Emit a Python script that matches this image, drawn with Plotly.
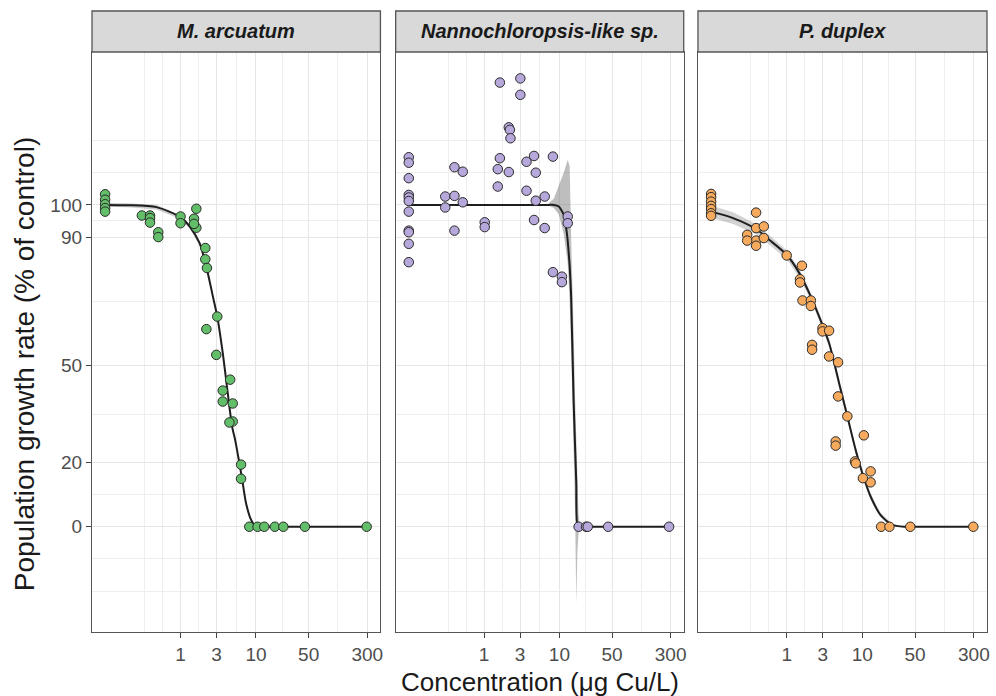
import plotly.graph_objects as go

# ---------------- data ----------------
species = ["M. arcuatum", "Nannochloropsis-like sp.", "P. duplex"]

# M. arcuatum observations
ma_x = [0.1, 0.1, 0.1, 0.1, 0.1,
        0.307, 0.394, 0.394, 0.394, 0.507, 0.507,
        1.0, 1.0, 1.62, 1.62, 1.51, 1.51,
        2.13, 2.13, 2.24, 3.07, 2.20, 2.98,
        4.55, 3.63, 3.63, 4.92, 4.92, 4.45,
        6.35, 6.35,
        8.17, 10.5, 12.9, 17.8, 23.1, 44.6, 294]
ma_y = [103.3, 101.6, 100.2, 99.0, 97.9,
        96.7, 96.7, 95.9, 94.5, 91.5, 90.0,
        96.4, 94.3, 98.8, 92.9, 95.7, 94.1,
        86.6, 83.1, 80.4, 65.3, 61.4, 53.4,
        45.7, 42.3, 38.9, 38.3, 32.7, 32.4,
        19.3, 14.9,
        0, 0, 0, 0, 0, 0, 0]

# Nannochloropsis-like sp. observations
nl_x = [0.1] * 11 + [
        0.305, 0.305, 0.404, 0.404, 0.404, 0.521, 0.521,
        1.02, 1.02, 1.62, 1.62, 1.52, 1.52,
        2.13, 2.2, 2.13, 2.24, 3.03, 3.03,
        3.66, 3.66, 4.61, 4.61, 4.86, 4.86,
        6.38, 6.38, 8.2, 8.2, 10.8, 10.8, 12.9, 12.9,
        18.0, 22.6, 23.8, 44.4, 286]
nl_y = [114.8, 113.1, 108.3, 103.1, 102.3, 101.2, 97.9, 92.0, 91.5, 87.9, 82.2,
        102.6, 99.2, 111.7, 102.8, 92.0, 110.3, 100.8,
        94.6, 93.1, 138.0, 114.5, 111.1, 105.7,
        124.1, 123.3, 110.2, 120.7, 139.3, 134.2,
        113.4, 104.4, 115.2, 95.3, 110.0, 101.3,
        102.6, 92.8, 115.0, 79.1, 77.7, 76.0, 96.4, 94.3,
        0, 0, 0, 0, 0]

# P. duplex observations
pd_x = [0.1] * 7 + [
        0.394, 0.394, 0.394, 0.394, 0.30, 0.30, 0.498, 0.498,
        1.0, 1.59, 1.50, 1.50, 1.62, 2.09, 2.09,
        2.98, 2.98, 3.64, 3.64, 2.17, 2.17,
        4.79, 4.79, 6.35, 4.45, 4.45, 10.5,
        8.0, 8.2, 12.9, 12.9, 10.2,
        17.8, 22.9, 43.2, 295]
pd_y = [103.4, 102.4, 101.0, 99.7, 98.7, 97.4, 96.6,
        97.6, 92.8, 88.9, 87.3, 90.7, 88.9, 93.3, 89.7,
        84.3, 81.1, 76.9, 75.9, 70.3, 70.3, 68.6,
        61.7, 60.7, 60.9, 52.9, 56.5, 55.0,
        51.1, 40.5, 34.3, 26.5, 25.2, 28.4,
        20.3, 19.7, 17.2, 13.8, 15.1,
        0, 0, 0, 0]

# fitted curves
ma_fit_x = [0.1, 0.2, 0.48, 1.0, 1.32, 1.79, 2.2, 2.69, 3.07, 3.63, 4.23, 4.83, 5.3,
            5.85, 6.54, 7.38, 8.6, 10.0, 15.0, 300]
ma_fit_y = [100, 99.9, 99.3, 96.2, 93.3, 88.1, 80.8, 71.5, 65.3, 54, 41.5, 31.1, 27,
            21.5, 15, 7.4, 2.2, 0.1, 0, 0]
ma_lo = [99.4, 99.3, 98.6, 95.6, 92.7, 87.4, 80.1, 70.8, 64.6, 53.3, 40.9, 30.5, 26.4,
         21.0, 14.5, 7.0, 1.9, 0.0, 0, 0]
ma_hi = [100.6, 100.5, 100.0, 96.8, 93.9, 88.8, 81.5, 72.2, 66.0, 54.7, 42.1, 31.7, 27.6,
         22.0, 15.5, 7.8, 2.5, 0.2, 0, 0]

nl_fit_x = [0.1, 1.0, 5.0, 7.3, 8.45, 9.82, 11.42, 12.6, 13.69, 14.3, 15.45, 16.76,
            17.58, 22.0, 300]
nl_fit_y = [100, 100, 100, 100, 100, 99.5, 97, 91, 81, 72, 39, 13.6, 0, 0, 0]
nl_rib_x = [6.84, 8.45, 9.82, 11.42, 12.89, 13.69, 14.32, 14.98, 15.68, 16.16, 16.76,
            17.32, 17.96, 18.79]
nl_lo = [100, 99, 97, 91, 82, 70, 55, 38, 20, 5, -24, -8, -2, 0]
nl_hi = [100, 102, 106, 110, 114, 112, 90, 75, 55, 40, 25, 12, 4, 0]

pd_fit_x = [0.1, 0.195, 0.394, 0.592, 1.0, 1.47, 1.99, 2.69, 3.65, 4.94, 6.35, 8.17,
            10.0, 12.9, 17.4, 24.8, 37, 60, 300]
pd_fit_y = [97.9, 95.9, 92.5, 89.1, 84.5, 78.8, 72.6, 65.3, 57.0, 44.6, 34.3, 23.9,
            16.7, 9.4, 3.7, 0.6, 0, 0, 0]
pd_lo = [96.0, 94.1, 90.9, 87.6, 83.1, 77.5, 71.4, 64.1, 55.8, 43.4, 33.1, 22.7,
         15.6, 8.5, 3.0, 0.3, 0, 0, 0]
pd_hi = [99.8, 97.7, 94.1, 90.6, 85.9, 80.1, 73.8, 66.5, 58.2, 45.8, 35.5, 25.1,
         17.8, 10.3, 4.4, 0.9, 0, 0, 0]

x_ticks = [1, 3, 10, 50, 300]
x_tick_text = ["1", "3", "10", "50", "300"]
x_minor = [0.3333, 0.5774, 1.732, 5.477, 22.36, 122.5]
y_ticks = [0, 20, 50, 90, 100]
y_tick_text = ["0", "20", "50", "90", "100"]
y_minor = [-20, -10, 10, 35, 70, 95, 110, 120]

colors = ["#63be69", "#b7a8dc", "#f6aa5e"]
ribbon_alpha = [0.35, 0.45, 0.30]
smooth = [0.7, 0.5, 0.7]

# ---------------- figure ----------------
W, H = 996, 696
ML, MR, MT, MB = 92, 6, 52, 64
PW, PH = W - ML - MR, H - MT - MB
doms = [[0.0, 289.4 / PW], [(396.7 - ML) / PW, (685.7 - ML) / PW], [(700 - ML) / PW, 1.0]]

fig = go.Figure()
panels = [
    (ma_x, ma_y, ma_fit_x, ma_fit_y, ma_fit_x, ma_lo, ma_hi),
    (nl_x, nl_y, nl_fit_x, nl_fit_y, nl_rib_x, nl_lo, nl_hi),
    (pd_x, pd_y, pd_fit_x, pd_fit_y, pd_fit_x, pd_lo, pd_hi),
]
for i, (px, py, fx, fy, rx, rlo, rhi) in enumerate(panels):
    xa = "x" if i == 0 else f"x{i+1}"
    ya = "y" if i == 0 else f"y{i+1}"
    fig.add_trace(go.Scatter(
        x=list(rx) + list(rx)[::-1], y=list(rhi) + list(rlo)[::-1],
        fill="toself", fillcolor=f"rgba(110,110,110,{ribbon_alpha[i]})",
        line=dict(width=0), mode="lines", hoverinfo="skip", showlegend=False,
        xaxis=xa, yaxis=ya))
    fig.add_trace(go.Scatter(
        x=fx, y=fy, mode="lines",
        line=dict(color="#1e1e1e", width=2, shape="spline", smoothing=smooth[i]),
        showlegend=False, xaxis=xa, yaxis=ya))
    fig.add_trace(go.Scatter(
        x=px, y=py, mode="markers",
        marker=dict(size=9.5, color=colors[i], line=dict(color="#2a2a2a", width=1)),
        showlegend=False, xaxis=xa, yaxis=ya, name=species[i]))

axis_common = dict(showline=True, mirror=True, linecolor="#555555", linewidth=1.3,
                   zeroline=False, gridcolor="#e6e6e6", gridwidth=1.2)
for i in range(3):
    xkey = "xaxis" if i == 0 else f"xaxis{i+1}"
    ykey = "yaxis" if i == 0 else f"yaxis{i+1}"
    fig.layout[xkey] = dict(
        domain=doms[i], type="log", range=[-1.174, 2.651],
        tickmode="array", tickvals=x_ticks, ticktext=x_tick_text,
        ticks="outside", ticklen=5, tickwidth=1.3, tickcolor="#444444",
        tickfont=dict(size=19, color="#4d4d4d"),
        minor=dict(tickmode="array", tickvals=x_minor, showgrid=True,
                   gridcolor="#eeeeee", gridwidth=1, ticks=""),
        anchor="y" if i == 0 else f"y{i+1}",
        **axis_common)
    fig.layout[ykey] = dict(
        range=[-32.7, 147.5], tickmode="array", tickvals=y_ticks, ticktext=y_tick_text,
        ticks="outside" if i == 0 else "", ticklen=5, tickwidth=1.3, tickcolor="#444444",
        showticklabels=(i == 0),
        tickfont=dict(size=19, color="#4d4d4d"),
        minor=dict(tickmode="array", tickvals=y_minor, showgrid=True,
                   gridcolor="#eeeeee", gridwidth=1, ticks=""),
        anchor="x" if i == 0 else f"x{i+1}",
        **axis_common)

strip_h = 41 / PH
shapes = []
annotations = []
for i, d in enumerate(doms):
    shapes.append(dict(type="rect", xref="paper", yref="paper", x0=d[0], x1=d[1],
                       y0=1.0, y1=1.0 + strip_h, fillcolor="#d9d9d9",
                       line=dict(color="#555555", width=1.3), layer="above"))
    annotations.append(dict(xref="paper", yref="paper", x=(d[0] + d[1]) / 2,
                            y=1.0 + strip_h / 2, text=f"<b><i>{species[i]}</i></b>",
                            showarrow=False, xanchor="center", yanchor="middle",
                            font=dict(size=20, color="#1a1a1a")))

annotations.append(dict(xref="paper", yref="paper", x=(541 - ML) / PW,
                        y=(H - MB - 682) / PH, text="Concentration (μg Cu/L)",
                        showarrow=False, xanchor="center", yanchor="middle",
                        font=dict(size=26, color="#1a1a1a")))
annotations.append(dict(xref="paper", yref="paper", x=(24 - ML) / PW,
                        y=(H - MB - 364) / PH,
                        text="Population growth rate (% of control)", textangle=-90,
                        showarrow=False, xanchor="center", yanchor="middle",
                        font=dict(size=28, color="#1a1a1a")))

fig.update_layout(
    width=W, height=H, margin=dict(l=ML, r=MR, t=MT, b=MB),
    paper_bgcolor="white", plot_bgcolor="white",
    font=dict(family="Liberation Sans, Arial, sans-serif"),
    shapes=shapes, annotations=annotations, showlegend=False)

fig.write_html("out.html", config={"displayModeBar": False},
               post_script="document.body.style.margin='0';"
                           "document.body.style.padding='0';"
                           "document.body.style.overflow='hidden';")
